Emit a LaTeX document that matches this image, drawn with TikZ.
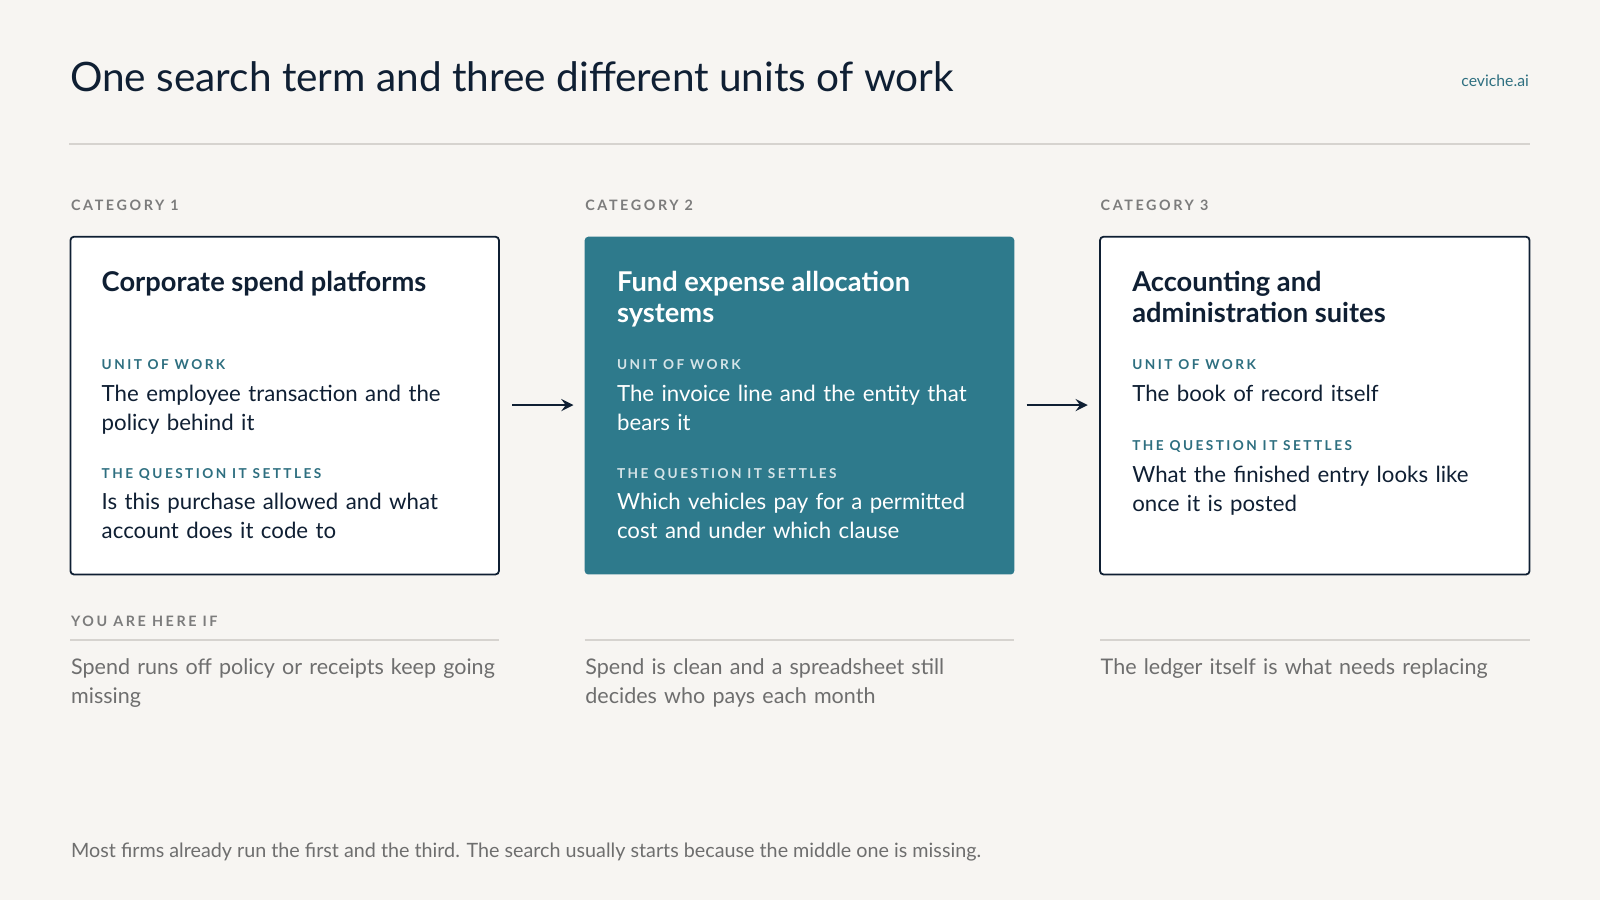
\documentclass[tikz,border=0pt]{standalone}
\usepackage{fontspec}
\setmainfont{Lato}
\newfontfamily\capsfont[LetterSpace=18]{Lato Bold}
\usetikzlibrary{positioning}
\definecolor{bgpaper}{HTML}{F7F5F2}
\definecolor{ink}{HTML}{0F1F33}
\definecolor{tealbox}{HTML}{2E7A8C}
\definecolor{teallabel}{HTML}{2E6F80}
\definecolor{greytext}{HTML}{6E6E6E}
\definecolor{rulegrey}{HTML}{D6D3CF}
\hyphenpenalty=10000
\exhyphenpenalty=10000
\begin{document}
\begin{tikzpicture}[x=0.01cm,y=-0.01cm,
    txt/.style={inner sep=0pt,anchor=north west,align=left},
    cat/.style={txt,font=\capsfont\fontsize{4}{5}\selectfont,text=greytext!90},
    boxtitle/.style={txt,font=\bfseries\fontsize{7.6}{8.8}\selectfont},
    lbl/.style={txt,font=\capsfont\fontsize{3.8}{5}\selectfont},
    body/.style={txt,text width=3.65cm,font=\fontsize{6.2}{8}\selectfont},
    note/.style={txt,text width=4.2cm,font=\fontsize{6}{8}\selectfont,text=greytext},
    card/.style={draw=ink,line width=0.5pt,fill=white,rounded corners=1pt},
    flow/.style={->,>=stealth,ink,line width=0.5pt}]
\fill[bgpaper] (0,0) rectangle (1568,882);
\useasboundingbox (0,0) rectangle (1568,882);

% header
\node[txt,text=ink,font=\fontsize{11.3}{14}\selectfont] (title) at (68,60) {One search term and three different units of work};
\node[inner sep=0pt,anchor=east,text=teallabel,font=\fontsize{4.4}{5}\selectfont] (brand) at (1499,79) {ceviche.ai};
\draw[rulegrey,line width=0.4pt] (68,141) -- (1499,141);

% categories
\node[cat] (cat1) at (69,195) {CATEGORY 1};
\node[cat] (cat2) at (573,195) {CATEGORY 2};
\node[cat] (cat3) at (1078,195) {CATEGORY 3};

% cards
\draw[card] (69,232) rectangle (489,563);
\fill[tealbox,rounded corners=1pt] (573,232) rectangle (994,563);
\draw[card] (1078,232) rectangle (1499,563);

% card 1
\node[boxtitle,text=ink] (t1) at (99,265) {Corporate spend platforms};
\node[lbl,text=teallabel] (u1) at (99,352) {UNIT OF WORK};
\node[body,text=ink] (b1) at (99,377) {The employee transaction and the policy behind it};
\node[lbl,text=teallabel] (q1) at (99,458) {THE QUESTION IT SETTLES};
\node[body,text=ink] (a1) at (99,483) {Is this purchase allowed and what account does it code to};

% card 2
\node[boxtitle,text=white] (t2) at (604,265) {Fund expense allocation\\systems};
\node[lbl,text=white!80!tealbox] (u2) at (604,352) {UNIT OF WORK};
\node[body,text=white] (b2) at (604,377) {The invoice line and the entity that bears it};
\node[lbl,text=white!80!tealbox] (q2) at (604,458) {THE QUESTION IT SETTLES};
\node[body,text=white] (a2) at (604,483) {Which vehicles pay for a permitted cost and under which clause};

% card 3
\node[boxtitle,text=ink] (t3) at (1109,265) {Accounting and\\administration suites};
\node[lbl,text=teallabel] (u3) at (1109,352) {UNIT OF WORK};
\node[body,text=ink] (b3) at (1109,377) {The book of record itself};
\node[lbl,text=teallabel] (q3) at (1109,431) {THE QUESTION IT SETTLES};
\node[body,text=ink] (a3) at (1109,456) {What the finished entry looks like once it is posted};

% arrows
\coordinate (s1) at (502,397); \coordinate (e1) at (562,397);
\coordinate (s2) at (1006,397); \coordinate (e2) at (1066,397);
\draw[flow] (s1) -- (e1);
\draw[flow] (s2) -- (e2);

% you are here if
\node[cat] (here) at (69,603) {YOU ARE HERE IF};
\foreach \x/\y in {69/489,573/994,1078/1499}
  \draw[rulegrey,line width=0.4pt] (\x,627) -- (\y,627);
\node[note] (n1) at (69,645) {Spend runs off policy or receipts keep going missing};
\node[note] (n2) at (573,645) {Spend is clean and a spreadsheet still decides who pays each month};
\node[note] (n3) at (1078,645) {The ledger itself is what needs replacing};

% footer
\node[txt,text=greytext,font=\fontsize{5.5}{6}\selectfont] (foot) at (69,825) {Most firms already run the first and the third. The search usually starts because the middle one is missing.};
\end{tikzpicture}
\end{document}
